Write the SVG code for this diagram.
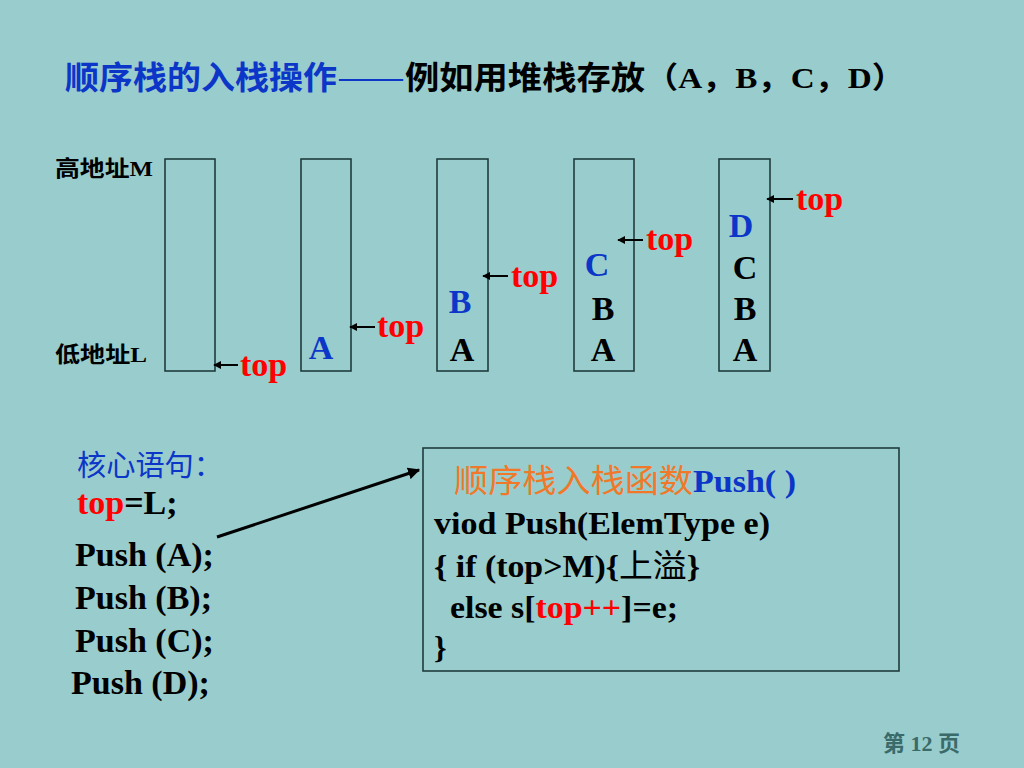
<svg xmlns="http://www.w3.org/2000/svg" width="1024" height="768" viewBox="0 0 1024 768">
<style>
.bg{fill:#99CCCC}
.stk{fill:none;stroke:#1E3C3C;stroke-width:1.6}
.ser{font-family:"Liberation Serif","Noto Sans CJK SC",serif;font-weight:bold}
.cjkb{font-family:"Noto Sans CJK SC",sans-serif;font-weight:bold}
.cjk{font-family:"Noto Sans CJK SC",sans-serif;font-weight:normal}
.blue{fill:#0B36C8}
.red{fill:#FF0000}
.blk{fill:#000000}
.org{fill:#F07828}
.big{font-size:34px}
.ptr{stroke:#000;stroke-width:2;fill:none}
</style>
<defs>
<marker id="ah2" viewBox="0 0 10 10" refX="9" refY="5" markerWidth="4" markerHeight="4" orient="auto" markerUnits="strokeWidth">
<path d="M0,0 L10,5 L0,10 z" fill="#000"/>
</marker>
</defs>
<rect class="bg" x="0" y="0" width="1024" height="768"/>

<g id="title">
<text class="cjkb blue" x="65" y="89" font-size="32" textLength="272" lengthAdjust="spacingAndGlyphs">顺序栈的入栈操作</text>
<text class="cjk blue" x="337" y="89" font-size="32" textLength="68" lengthAdjust="spacingAndGlyphs">——</text>
<text class="cjkb blk" x="405" y="89" font-size="32" textLength="240" lengthAdjust="spacingAndGlyphs">例如用堆栈存放</text>
<text class="ser blk" x="645" y="88" font-size="30" textLength="260" lengthAdjust="spacingAndGlyphs">（A，B，C，D）</text>
</g>

<g id="addr-labels">
<text class="cjkb blk" x="55" y="176" font-size="22" textLength="98" lengthAdjust="spacingAndGlyphs">高地址<tspan class="ser">M</tspan></text>
<text class="cjkb blk" x="55" y="362" font-size="22" textLength="92" lengthAdjust="spacingAndGlyphs">低地址<tspan class="ser">L</tspan></text>
</g>

<g id="stack0">
<rect class="stk" x="165" y="159" width="50" height="212"/>
</g>
<g id="stack1">
<rect class="stk" x="301" y="159" width="50" height="212"/>
<text class="ser blue big" x="321" y="359" text-anchor="middle">A</text>
</g>
<g id="stack2">
<rect class="stk" x="437" y="159" width="51" height="212"/>
<text class="ser blue big" x="460" y="313" text-anchor="middle">B</text>
<text class="ser blk big" x="462" y="361" text-anchor="middle">A</text>
</g>
<g id="stack3">
<rect class="stk" x="574" y="159" width="60" height="212"/>
<text class="ser blue big" x="597" y="276" text-anchor="middle">C</text>
<text class="ser blk big" x="603" y="320" text-anchor="middle">B</text>
<text class="ser blk big" x="603" y="361" text-anchor="middle">A</text>
</g>
<g id="stack4">
<rect class="stk" x="719" y="159" width="51" height="212"/>
<text class="ser blue big" x="741" y="237" text-anchor="middle">D</text>
<text class="ser blk big" x="745" y="279" text-anchor="middle">C</text>
<text class="ser blk big" x="745" y="320" text-anchor="middle">B</text>
<text class="ser blk big" x="745" y="361" text-anchor="middle">A</text>
</g>

<g id="top-labels">
<text class="ser red big" x="240" y="376">top</text>
<text class="ser red big" x="377" y="337">top</text>
<text class="ser red big" x="511" y="287">top</text>
<text class="ser red big" x="646" y="250">top</text>
<text class="ser red big" x="796" y="210">top</text>
</g>

<g id="core">
<text class="cjk blue" x="77" y="476" font-size="29" textLength="146" lengthAdjust="spacingAndGlyphs">核心语句：</text>
<text class="ser big" x="77" y="514"><tspan class="red">top</tspan><tspan class="blk">=L;</tspan></text>
<text class="ser blk big" x="75" y="566">Push (A);</text>
<text class="ser blk big" x="75" y="609">Push (B);</text>
<text class="ser blk big" x="75" y="652">Push (C);</text>
<text class="ser blk big" x="71" y="694">Push (D);</text>
</g>

<g id="push-func">
<rect x="423" y="448" width="476" height="223" fill="none" stroke="#1E3C3C" stroke-width="1.6"/>
<text class="cjk org" x="454" y="492" font-size="32" textLength="239" lengthAdjust="spacingAndGlyphs">顺序栈入栈函数</text>
<text class="ser blue" x="693" y="492" font-size="31" textLength="103" lengthAdjust="spacingAndGlyphs">Push( )</text>
<text class="ser blk" x="434" y="534" font-size="32" textLength="336" lengthAdjust="spacingAndGlyphs">viod Push(ElemType e)</text>
<text class="ser blk" x="434" y="577" font-size="32" textLength="266" lengthAdjust="spacingAndGlyphs">{ if (top&gt;M){<tspan class="cjk">上溢</tspan>}</text>
<text class="ser blk" x="450" y="618" font-size="32" textLength="228" lengthAdjust="spacingAndGlyphs">else s[<tspan class="red">top++</tspan>]=e;</text>
<text class="ser blk" x="434" y="658" font-size="32">}</text>
</g>

<g id="connectors">
<line class="ptr" x1="238" y1="365" x2="214" y2="365" marker-end="url(#ah2)"/>
<line class="ptr" x1="375" y1="327" x2="350" y2="327" marker-end="url(#ah2)"/>
<line class="ptr" x1="508" y1="276" x2="483" y2="276" marker-end="url(#ah2)"/>
<line class="ptr" x1="643" y1="240" x2="618" y2="240" marker-end="url(#ah2)"/>
<line class="ptr" x1="793" y1="199" x2="767" y2="199" marker-end="url(#ah2)"/>
<line x1="217" y1="537" x2="419" y2="470" stroke="#000" stroke-width="3" marker-end="url(#ah2)"/>
</g>

<g id="footer">
<text class="ser" x="883" y="751" font-size="22" fill="#3A6A6A"><tspan class="cjkb">第</tspan> 12 <tspan class="cjkb">页</tspan></text>
</g>
</svg>
